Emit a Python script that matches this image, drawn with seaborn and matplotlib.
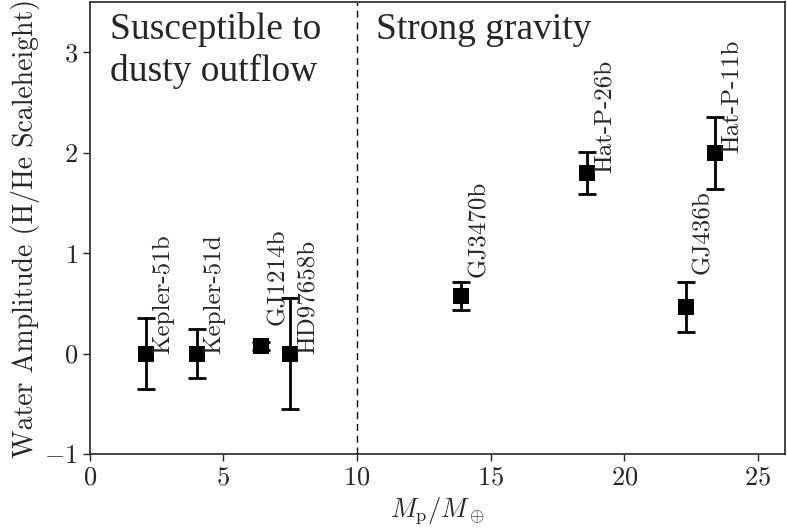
import matplotlib
matplotlib.use("Agg")
import matplotlib.pyplot as plt
import numpy as np
import pandas as pd
import seaborn as sns

# planet data
planets = ["Kepler-51b", "Kepler-51d", "GJ1214b", "HD97658b",
           "GJ3470b", "Hat-P-26b", "GJ436b", "Hat-P-11b"]
mass = [2.1, 4.0, 6.4, 7.5, 13.9, 18.6, 22.3, 23.4]
amplitude = [0.0, 0.0, 0.08, 0.0, 0.57, 1.80, 0.46, 2.00]
amp_err = [0.35, 0.24, 0.04, 0.55, 0.14, 0.21, 0.25, 0.36]
# vertical nudge of each name label (data units)
label_dy = [0.0, 0.0, 0.2, 0.0, 0.19, 0.0, 0.33, 0.0]

sns.set_style("ticks")
plt.rcParams["font.family"] = "serif"
plt.rcParams["font.serif"] = ["cmr10"]
plt.rcParams["mathtext.fontset"] = "cm"
plt.rcParams["axes.formatter.use_mathtext"] = True
plt.rcParams["axes.unicode_minus"] = True

df = pd.DataFrame({"planet": planets, "mass": mass, "amp": amplitude, "err": amp_err})

fig = plt.figure(figsize=(7.87, 5.31), dpi=100)
ax = fig.add_axes([0.114, 0.145, 0.883, 0.851])

ax.errorbar(df["mass"], df["amp"], yerr=df["err"], fmt="none", ecolor="black",
            elinewidth=2, capsize=6.5, capthick=2, zorder=2)
sns.scatterplot(data=df, x="mass", y="amp", marker="s", s=130, color="black",
                edgecolor="black", linewidth=0, ax=ax, zorder=3)

for name, x, y, dy in zip(planets, mass, amplitude, label_dy):
    ax.text(x + 0.24, y + dy, name, rotation=90, ha="left", va="bottom", fontsize=18)

ax.axvline(10, color="black", lw=1, ls=(0, (5, 3.5)))

ax.text(0.75, 3.40, "Susceptible to\ndusty outflow", fontsize=27,
        family="Liberation Serif", va="top", ha="left", linespacing=1.26)
ax.text(10.7, 3.40, "Strong gravity", fontsize=27, family="Liberation Serif",
        va="top", ha="left")

ax.set_xlim(0, 26)
ax.set_ylim(-1, 3.5)
ax.set_xticks([0, 5, 10, 15, 20, 25])
ax.set_yticks([-1, 0, 1, 2, 3])
ax.tick_params(labelsize=19, width=1, length=5)
ax.set_xlabel(r"$M_\mathrm{p}/M_\oplus$", fontsize=19, labelpad=4)
ax.set_ylabel("Water Amplitude (H/He Scaleheight)", fontsize=20, labelpad=3)
for sp in ax.spines.values():
    sp.set_linewidth(1.2)

fig.savefig("out.png", dpi=100)
